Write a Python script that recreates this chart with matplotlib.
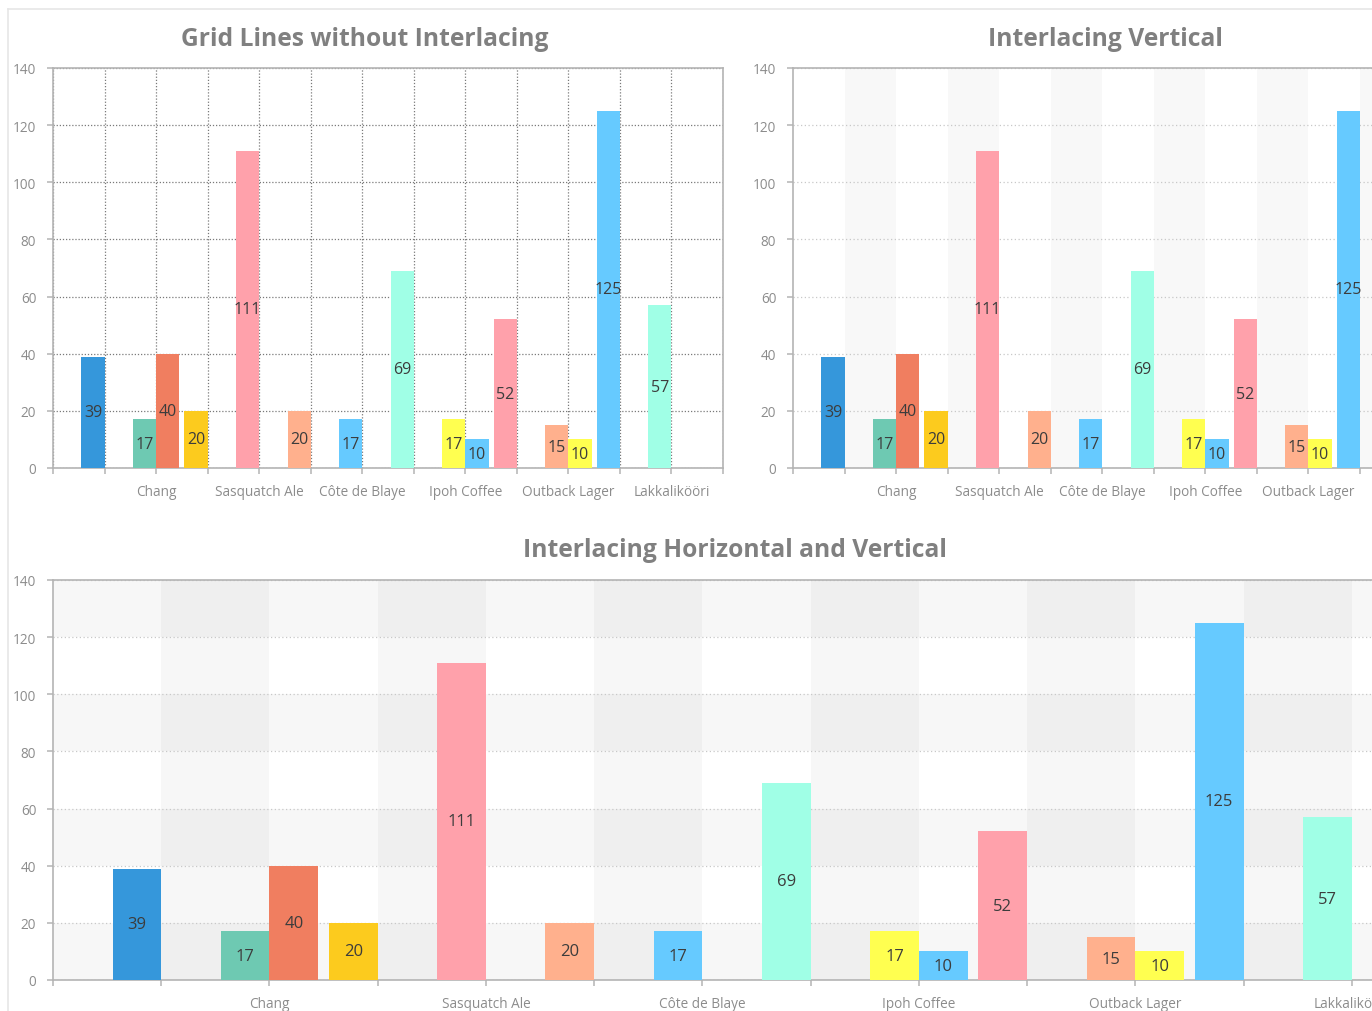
import matplotlib
matplotlib.use("Agg")
import matplotlib.pyplot as plt
from matplotlib.lines import Line2D
import numpy as np

# ---------------- data ----------------
categories = ["Chai", "Chang", "Sasquatch Ale", "Côte de Blaye",
              "Ipoh Coffee", "Outback Lager", "Lakkalikööri"]
series_b = [None, 17, 111, 17, 17, 15, 57]
series_c = [None, 40, None, None, 10, 10, None]
series_d = [39, 20, 20, 69, 52, 125, None]

colors_b = [None, "#6ec9b2", "#ffa1ab", "#66caff", "#ffff50", "#ffb08d", "#a0ffe6"]
colors_c = [None, "#f07e60", None, None, "#66caff", "#ffff50", None]
colors_d = ["#3597db", "#fccb1e", "#ffb08d", "#a0ffe6", "#ffa1ab", "#66caff", None]

y_ticks = [0, 20, 40, 60, 80, 100, 120, 140]
titles = ["Grid Lines without Interlacing", "Interlacing Vertical",
          "Interlacing Horizontal and Vertical"]

# ---------------- style ----------------
W, H = 1372, 1012
fig = plt.figure(figsize=(W / 100, H / 100), dpi=100)
fig.patch.set_facecolor("white")

SPINE = "#b4b4b4"
TICKC = "#8c8c8c"
VALC = "#3c3c3c"
TICKFONT = "Open Sans"
BW = 0.225


def px_axes(left, top, right, bottom):
    return fig.add_axes([left / W, 1 - bottom / H, (right - left) / W, (bottom - top) / H])


def setup(ax):
    ax.set_xlim(0, len(categories) - 0.5)
    ax.set_ylim(0, 140)
    xt = np.arange(0, len(categories) - 0.5 + 0.01, 0.5)
    ax.set_xticks(xt)
    labels = []
    for t in xt:
        if abs(t - round(t)) < 1e-6 and 1 <= int(round(t)) < len(categories):
            labels.append(categories[int(round(t))])
        else:
            labels.append("")
    ax.set_xticklabels(labels, fontfamily=TICKFONT, fontsize=9.8, color=TICKC)
    ax.set_yticks(y_ticks)
    ax.set_yticklabels([str(v) for v in y_ticks], fontfamily=TICKFONT, fontsize=9.8, color=TICKC)
    for s in ax.spines.values():
        s.set_color(SPINE)
        s.set_linewidth(1.2)
    ax.tick_params(axis="both", length=4, width=1.1, color=SPINE)
    ax.tick_params(axis="y", pad=8)
    ax.tick_params(axis="x", pad=7.5)
    ax.set_axisbelow(True)


def draw_bars(ax, fs):
    x = np.arange(len(categories))
    for vals, cols, off in ((series_b, colors_b, -BW / 2),
                            (series_c, colors_c, BW / 2),
                            (series_d, colors_d, 0.5 - BW / 2)):
        for i, (v, c) in enumerate(zip(vals, cols)):
            if v is None:
                continue
            bars = ax.bar(x[i] + off, v, width=BW, color=c, zorder=3, linewidth=0)
            ax.bar_label(bars, labels=[str(v)], label_type="center",
                         fontsize=fs, color=VALC, fontfamily=TICKFONT, zorder=4)


# ---- top-left: grid lines ----
ax1 = px_axes(53, 69, 723, 469)
setup(ax1)
ax1.grid(True, axis="both", linestyle=(0, (1, 1.5)), color="#7a7a7a", linewidth=0.9)
draw_bars(ax1, 11.5)

# ---- top-right: vertical interlacing ----
ax2 = px_axes(793, 69, 1463, 469)
setup(ax2)
for k in np.arange(0.5, len(categories) - 0.5, 1.0):
    ax2.axvspan(k, k + 0.5, color="black", alpha=0.028, linewidth=0, zorder=0)
ax2.grid(True, axis="y", linestyle=(0, (1, 2)), color="#c8c8c8", linewidth=0.9)
draw_bars(ax2, 11.5)

# ---- bottom: horizontal + vertical interlacing ----
ax3 = px_axes(53, 581, 1460, 981)
setup(ax3)
for k in np.arange(0.5, len(categories) - 0.5, 1.0):
    ax3.axvspan(k, k + 0.5, color="black", alpha=0.031, linewidth=0, zorder=0)
for k in range(0, 140, 40):
    ax3.axhspan(k, k + 20, color="black", alpha=0.031, linewidth=0, zorder=0)
ax3.grid(True, axis="y", linestyle=(0, (1, 2)), color="#c8c8c8", linewidth=0.9)
draw_bars(ax3, 12)

# ---- titles ----
title_pos = [(365, 40), (1105, 40), (735, 551)]
for t, (tx, ty) in zip(titles, title_pos):
    fig.text(tx / W, 1 - ty / H, t, ha="center", va="center", fontsize=17.7,
             fontweight="bold", color="#808080", fontfamily="Open Sans")

# ---- outer frame ----
fig.add_artist(Line2D([8 / W, 1], [1 - 10 / H, 1 - 10 / H], color="#e6e6e6", linewidth=1.2))
fig.add_artist(Line2D([8 / W, 8 / W], [0, 1 - 10 / H], color="#e6e6e6", linewidth=1.2))

fig.savefig("out.png", dpi=100)
